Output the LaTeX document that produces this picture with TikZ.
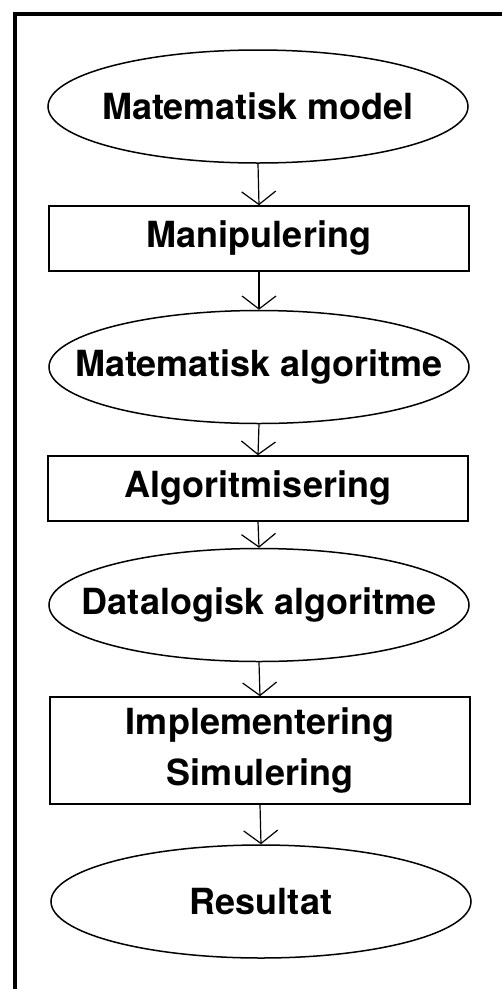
\documentclass[tikz,border=0pt]{standalone}
\usepackage{fontspec}
\setmainfont{TeX Gyre Heros}
\usetikzlibrary{shapes.geometric,arrows.meta}
\newcommand{\flowtext}[1]{\makebox[0pt]{#1}}
\tikzset{
  stage/.style={draw, line width=1.5pt, ellipse, minimum width=420pt, minimum height=113pt,
    inner sep=0pt, font=\fontsize{36}{51}\selectfont\bfseries, align=center},
  process/.style={draw, line width=1.5pt, rectangle, minimum width=420pt, minimum height=65pt,
    inner sep=0pt, font=\fontsize{36}{51}\selectfont\bfseries, align=center},
  flow/.style={line width=1.2pt, -{Straight Barb[length=13pt,width=34pt,line width=1.2pt]}},
  frame/.style={line width=4pt}
}
\begin{document}
\begin{tikzpicture}[x=1pt,y=-1pt]
  \useasboundingbox (0,0) rectangle (502,989);
  % outer frame (top and left edges)
  \draw[frame] (14.5,989) -- (14.5,14) -- (502,14);
  % stages and processes
  \node[stage]   (model)   at (258,106.5) {\flowtext{Matematisk model}};
  \node[process] (manip)   at (259,238.5) {\flowtext{Manipulering}};
  \node[stage]   (matalg)  at (259,367)   {\flowtext{Matematisk algoritme}};
  \node[process] (algor)   at (258,488.5) {\flowtext{Algoritmisering}};
  \node[stage]   (datalg)  at (259,605)   {\flowtext{Datalogisk algoritme}};
  \node[process, minimum height=107pt] (impl) at (260,750.5) {Implementering\\Simulering};
  \node[stage]   (result)  at (261,901.5) {\flowtext{Resultat}};
  % connectors
  \draw[flow] (model.south) -- (manip.north);
  \draw[flow] (manip.south) -- (matalg.north);
  \draw[flow] (matalg.south) -- (algor.north);
  \draw[flow] (algor.south) -- (datalg.north);
  \draw[flow] (datalg.south) -- (impl.north);
  \draw[flow] (impl.south) -- (result.north);
\end{tikzpicture}
\end{document}
